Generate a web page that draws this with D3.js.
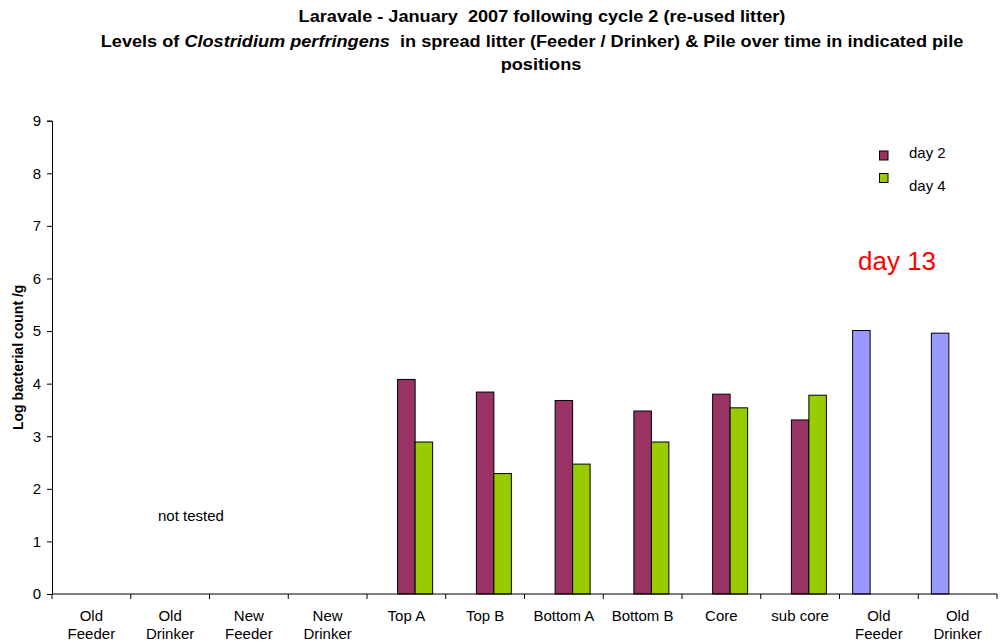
<!DOCTYPE html>
<html>
<head>
<meta charset="utf-8">
<script src="https://cdn.jsdelivr.net/npm/d3@7"></script>
<style>
  html, body { margin: 0; padding: 0; background: #fff; }
  svg { display: block; font-family: "Liberation Sans", Arial, sans-serif; }
</style>
</head>
<body>
<svg id="chart" width="1000" height="643"></svg>
<script>
// Sample positions along the x axis (two-line tick labels)
const categories = [
  ["Old", "Feeder"], ["Old", "Drinker"], ["New", "Feeder"], ["New", "Drinker"],
  ["Top A"], ["Top B"], ["Bottom A"], ["Bottom B"], ["Core"], ["sub core"],
  ["Old", "Feeder"], ["Old", "Drinker"]
];

// Log bacterial counts per series (null = no sample)
const day13 = [null, null, null, null, null, null, null, null, null, null, 5.01, 4.96];
const day2  = [null, null, null, null, 4.08, 3.84, 3.68, 3.48, 3.80, 3.31, null, null];
const day4  = [null, null, null, null, 2.89, 2.29, 2.47, 2.89, 3.54, 3.78, null, null];

const seriesNames = ["day 13", "day 2", "day 4"];
const seriesColors = ["#9999FF", "#993366", "#99CC00"];
const yTicks = [0, 1, 2, 3, 4, 5, 6, 7, 8, 9];
const legendNames = ["day 2", "day 4"];

const series = [day13, day2, day4];

const svg = d3.select("#chart");
const plot = { left: 52, right: 997, top: 120.7, bottom: 594 };
const labelSize = 15;

const x = d3.scaleBand()
  .domain(d3.range(categories.length))
  .range([plot.left, plot.right])
  .padding(0);

// three slots per category, 150% gap between groups
const slotW = x.bandwidth() / (series.length + 1.5);
const x1 = d3.scaleBand()
  .domain(d3.range(series.length))
  .range([slotW * 0.75, slotW * 0.75 + slotW * series.length])
  .padding(0);

const y = d3.scaleLinear().domain([0, 9]).range([plot.bottom, plot.top]);

// Title (slightly widened bold face)
const titleLines = [
  { cx: 542, y: 22 },
  { cx: 532, y: 47 },
  { cx: 541, y: 70 }
];
const title = svg.append("g")
  .attr("font-weight", "bold")
  .attr("font-size", 16.5)
  .attr("text-anchor", "middle")
  .attr("fill", "#000");
const mkLine = (k) => title.append("g")
  .attr("transform", `translate(${titleLines[k].cx},${titleLines[k].y}) scale(1.1,1)`)
  .append("text").attr("x", 0).attr("y", 0).attr("xml:space", "preserve");
mkLine(0).text("Laravale - January  2007 following cycle 2 (re-used litter)");
const t2 = mkLine(1);
t2.append("tspan").text("Levels of ");
t2.append("tspan").attr("font-style", "italic").text("Clostridium perfringens");
t2.append("tspan").text("  in spread litter (Feeder / Drinker) & Pile over time in indicated pile");
mkLine(2).text("positions");

// Bars
const bars = svg.append("g");
series.forEach((vals, s) => {
  bars.selectAll(null)
    .data(vals.map((v, i) => ({ v, i })).filter(d => d.v != null))
    .enter().append("rect")
    .attr("x", d => x(d.i) + x1(s))
    .attr("y", d => y(d.v))
    .attr("width", x1.bandwidth())
    .attr("height", d => y(0) - y(d.v))
    .attr("fill", seriesColors[s])
    .attr("stroke", "#000")
    .attr("stroke-width", 1);
});

// Y axis
const yAxis = svg.append("g")
  .attr("transform", `translate(${plot.left},0)`)
  .call(d3.axisLeft(y).tickValues(yTicks).tickSize(5).tickPadding(6).tickFormat(d3.format("d")));
yAxis.select(".domain").attr("stroke", "#000");
yAxis.selectAll(".tick line").attr("stroke", "#000");
yAxis.selectAll(".tick text")
  .attr("font-family", "Liberation Sans, Arial, sans-serif")
  .attr("font-size", labelSize)
  .attr("fill", "#000");

// X axis: baseline, boundary ticks and centred category labels
const xAxis = svg.append("g");
xAxis.append("line")
  .attr("x1", plot.left).attr("x2", plot.right)
  .attr("y1", y(0)).attr("y2", y(0))
  .attr("stroke", "#000");
const bounds = d3.range(categories.length + 1);
xAxis.selectAll(null).data(bounds).enter().append("line")
  .attr("x1", i => i < categories.length ? x(i) : x(i - 1) + x.bandwidth())
  .attr("x2", i => i < categories.length ? x(i) : x(i - 1) + x.bandwidth())
  .attr("y1", y(0)).attr("y2", y(0) + 5)
  .attr("stroke", "#000");
const labels = xAxis.selectAll(null).data(categories).enter().append("text")
  .attr("text-anchor", "middle")
  .attr("font-size", labelSize)
  .attr("fill", "#000");
labels.each(function (lines, i) {
  const t = d3.select(this);
  lines.forEach((ln, k) => {
    t.append("tspan")
      .attr("x", x(i) + x.bandwidth() / 2)
      .attr("y", y(0) + 27 + k * 18)
      .text(ln);
  });
});

// Y axis title
svg.append("text")
  .attr("transform", `translate(23,${(plot.top + plot.bottom) / 2}) rotate(-90)`)
  .attr("text-anchor", "middle")
  .attr("font-weight", "bold")
  .attr("font-size", 14)
  .text("Log bacterial count /g");

// Legend
const legend = svg.append("g");
legendNames.forEach((name, k) => {
  const s = seriesNames.indexOf(name);
  legend.append("rect")
    .attr("x", 879.5).attr("y", 151 + k * 22.5)
    .attr("width", 8.5).attr("height", 9)
    .attr("fill", seriesColors[s]).attr("stroke", "#000");
  legend.append("text")
    .attr("x", 909).attr("y", 158 + k * 33)
    .attr("font-size", labelSize)
    .text(name);
});

// Annotations
svg.append("text")
  .attr("x", 858).attr("y", 270)
  .attr("font-size", 26)
  .attr("fill", "#FF0000")
  .text("day 13");
svg.append("text")
  .attr("x", 158).attr("y", 521)
  .attr("font-size", labelSize)
  .text("not tested");
</script>
</body>
</html>
